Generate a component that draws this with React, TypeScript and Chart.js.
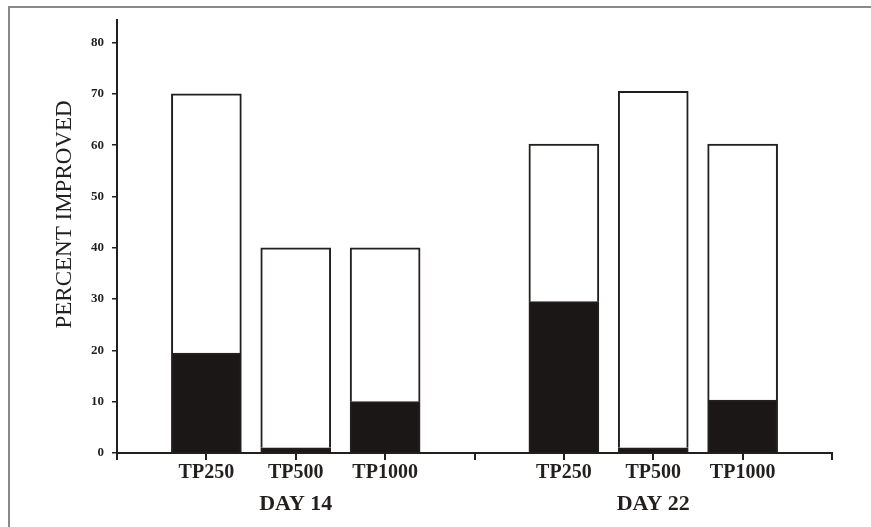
import React, { useEffect, useRef } from "react";
import { Chart, registerables } from "chart.js";

Chart.register(...registerables);

const categories = ["", "TP250", "TP500", "TP1000", "", "TP250", "TP500", "TP1000", ""];
const groupLabels = ["", "", "DAY 14", "", "", "", "DAY 22", "", ""];
const blackValues = [null, 19.5, 1, 10, null, 29.5, 1, 10.3, null];
const totalValues = [null, 70, 40, 40, null, 60.2, 70.5, 60.2, null];
const yTickValues = [0, 10, 20, 30, 40, 50, 60, 70, 80];
const yTitle = "PERCENT IMPROVED";

const whiteValues = totalValues.map((t, i) =>
  t === null || blackValues[i] === null ? null : (t as number) - (blackValues[i] as number)
);

const INK = "#231f1f";

const yTitlePlugin = {
  id: "yTitlePlugin",
  afterDraw(chart: any) {
    const y = chart.scales.y;
    const ctx = chart.ctx;
    ctx.save();
    ctx.translate(65, y.getPixelForValue(46.5));
    ctx.rotate(-Math.PI / 2);
    ctx.font = "23px 'Liberation Serif', serif";
    ctx.fillStyle = INK;
    ctx.textAlign = "center";
    ctx.textBaseline = "middle";
    ctx.fillText(yTitle, 0, 0);
    ctx.restore();
  },
};

export default function App() {
  const ref = useRef<HTMLCanvasElement | null>(null);
  useEffect(() => {
    if (!ref.current) return;
    const chart = new Chart(ref.current, {
      type: "bar",
      data: {
        labels: categories,
        datasets: [
          {
            label: "black",
            data: blackValues as any,
            backgroundColor: "#1c1717",
            borderColor: INK,
            borderWidth: 2,
            borderSkipped: "start",
            barThickness: 70,
          },
          {
            label: "white",
            data: whiteValues as any,
            backgroundColor: "#ffffff",
            borderColor: INK,
            borderWidth: 2,
            borderSkipped: "start",
            barThickness: 70,
          },
        ],
      },
      options: {
        animation: false,
        responsive: false,
        maintainAspectRatio: false,
        layout: { padding: { left: 0, right: 39, top: 20, bottom: 0 } },
        plugins: { legend: { display: false }, tooltip: { enabled: false } },
        scales: {
          x: {
            type: "category",
            stacked: true,
            offset: false,
            position: "bottom",
            grid: {
              display: true,
              offset: false,
              drawOnChartArea: false,
              drawTicks: true,
              tickLength: 7,
              color: INK,
              lineWidth: 2,
            },
            border: { display: true, color: INK, width: 2 },
            ticks: {
              autoSkip: false,
              maxRotation: 0,
              minRotation: 0,
              padding: 1,
              color: INK,
              font: { family: "'Liberation Serif', serif", size: 20, weight: "bold" },
            },
            afterFit(scale: any) {
              scale.height = 36;
            },
          },
          x2: {
            type: "category",
            labels: groupLabels,
            offset: false,
            position: "bottom",
            grid: { display: false, drawTicks: false, offset: false },
            border: { display: false },
            ticks: {
              autoSkip: false,
              maxRotation: 0,
              minRotation: 0,
              padding: 2,
              color: INK,
              font: { family: "'Liberation Serif', serif", size: 22, weight: "bold" },
            },
            afterFit(scale: any) {
              scale.height = 38;
            },
          },
          y: {
            type: "linear",
            stacked: true,
            min: 0,
            max: 84.4,
            afterBuildTicks(scale: any) {
              scale.ticks = yTickValues.map((v) => ({ value: v }));
            },
            afterFit(scale: any) {
              scale.width = 117;
            },
            grid: {
              display: true,
              drawOnChartArea: false,
              drawTicks: true,
              tickLength: 5,
              color: INK,
              lineWidth: 1.5,
            },
            border: { display: true, color: INK, width: 2 },
            ticks: {
              padding: 8,
              color: INK,
              font: { family: "'Liberation Serif', serif", size: 13, weight: "bold" },
            },
          },
        },
      },
      plugins: [yTitlePlugin],
    });
    return () => chart.destroy();
  }, []);

  return (
    <div style={{ position: "absolute", left: 0, top: 0, width: 871, height: 527, background: "#fff" }}>
      <canvas ref={ref} width={871} height={527} style={{ position: "absolute", left: 0, top: 0 }} />
      <div
        style={{
          position: "absolute",
          left: 8,
          top: 6,
          width: 871 - 8,
          height: 527 - 6,
          borderTop: "2px solid #8a8a8a",
          borderLeft: "2px solid #8a8a8a",
          boxSizing: "border-box",
          pointerEvents: "none",
        }}
      />
    </div>
  );
}
